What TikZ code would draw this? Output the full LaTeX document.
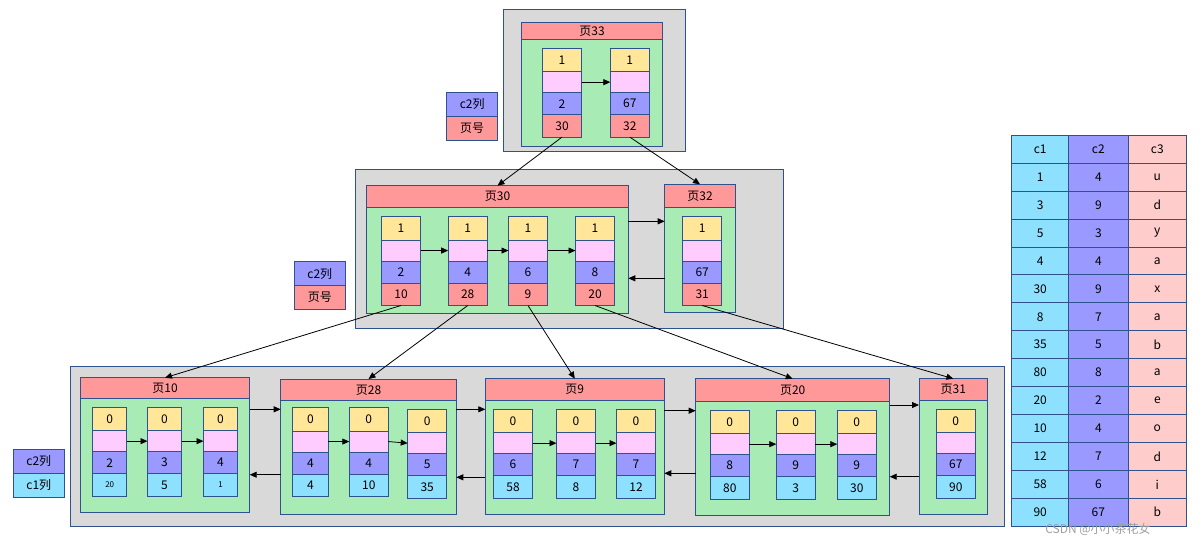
\documentclass[tikz,border=0pt]{standalone}
\usepackage{fontspec}
\setmainfont{Noto Sans CJK SC}
\usepackage{tikz}
\usetikzlibrary{arrows.meta,positioning}

% one record: [cell options]{name}{x}{top}{flag}{key}{last}{last style}
\newcommand{\Rec}[8][]{%
\node[ycell,#1,anchor=north] (#2y) at (#3,#4) {#5};
\node[pcell,#1,below=0pt of #2y] (#2p) {};
\node[bcell,#1,below=0pt of #2p] (#2b) {#6};
\node[#8,#1,below=0pt of #2b] (#2l) {#7};
}

\begin{document}
\begin{tikzpicture}[x=1pt,y=-1pt,
  every node/.style={font=\fontsize{12}{14}\selectfont},
  cell/.style={draw=cedge,line width=0.8pt,minimum width=39pt,inner sep=0pt,outer sep=0pt},
  ycell/.style={cell,fill=cyel,minimum height=23.5pt},
  pcell/.style={cell,fill=cpink,minimum height=20.7pt},
  bcell/.style={cell,fill=cblue,minimum height=22.3pt},
  rcell/.style={cell,fill=cred,minimum height=22.3pt},
  ccell/.style={cell,fill=ccyan,minimum height=22.3pt},
  head/.style={draw=cedge,line width=0.8pt,fill=chead,inner sep=0pt,outer sep=0pt,anchor=north west},
  body/.style={draw=cedge,line width=0.8pt,fill=cbody,inner sep=0pt,outer sep=0pt,anchor=north west},
  gbox/.style={draw=cedge,line width=0.8pt,fill=cgray},
  lcell/.style={draw=cedge,line width=0.8pt,minimum width=51pt,minimum height=23.8pt,inner sep=0pt,outer sep=0pt},
  tcell/.style={draw=cedge,line width=0.8pt,minimum height=27.93pt,inner sep=0pt,outer sep=0pt},
  arr/.style={-{Triangle[length=7pt,width=6pt]},line width=0.8pt,black}]
%
\useasboundingbox (0,0) rectangle (1201,547);
%
\definecolor{cedge}{RGB}{47,82,143}
\definecolor{cgray}{RGB}{217,217,217}
\definecolor{chead}{RGB}{255,153,153}
\definecolor{cbody}{RGB}{169,235,180}
\definecolor{cyel}{RGB}{255,230,153}
\definecolor{cpink}{RGB}{255,204,255}
\definecolor{cblue}{RGB}{153,153,255}
\definecolor{cred}{RGB}{255,153,153}
\definecolor{ccyan}{RGB}{142,224,255}
\definecolor{crose}{RGB}{255,204,204}
%
\draw[gbox] (503.3,9.3) rectangle (685,151);
\draw[gbox] (355.7,169.7) rectangle (783.3,328.3);
\draw[gbox] (70.3,366.7) rectangle (1004.3,526);
%
% root page
\node[head,minimum width=140.6pt,minimum height=17pt] (p33h) at (521.7,22.3) {页33};
\node[body,minimum width=140.6pt,minimum height=107pt] (p33) at (p33h.south west) {};
\Rec{r33a}{562}{48.3}{1}{2}{30}{rcell}
\Rec{r33b}{629.8}{48.3}{1}{67}{32}{rcell}
\draw[arr] (r33ap.east) -- (r33bp.west);
%
% second level
\node[head,minimum width=261.6pt,minimum height=21.6pt] (p30h) at (366.7,185.7) {页30};
\node[body,minimum width=261.6pt,minimum height=106pt] (p30) at (p30h.south west) {};
\node[head,minimum width=70.6pt,minimum height=23pt] (p32h) at (664.7,184.3) {页32};
\node[body,minimum width=70.6pt,minimum height=105pt] (p32) at (p32h.south west) {};
\Rec{r30a}{401}{216.7}{1}{2}{10}{rcell}
\Rec{r30b}{467.7}{216.7}{1}{4}{28}{rcell}
\Rec{r30c}{528}{216.7}{1}{6}{9}{rcell}
\Rec{r30d}{595}{216.7}{1}{8}{20}{rcell}
\Rec{r32a}{702.2}{216.7}{1}{67}{31}{rcell}
\draw[arr] (r30ap.east) -- (r30bp.west);
\draw[arr] (r30bp.east) -- (r30cp.west);
\draw[arr] (r30cp.east) -- (r30dp.west);
\draw[arr] ([yshift=-14pt]p30.north east) -- ([yshift=-14pt]p30.north east -| p32.west);
\draw[arr] ([yshift=34pt]p32.south west) -- ([yshift=34pt]p32.south west -| p30.east);
%
% leaf pages
\node[head,minimum width=169.4pt,minimum height=20.6pt] (p10h) at (80.3,377.7) {页10};
\node[body,minimum width=169.4pt,minimum height=114pt] (p10) at (p10h.south west) {};
\node[head,minimum width=175.6pt,minimum height=21.7pt] (p28h) at (280.7,379) {页28};
\node[body,minimum width=175.6pt,minimum height=113.6pt] (p28) at (p28h.south west) {};
\node[head,minimum width=179pt,minimum height=21.6pt] (p9h) at (485.3,378.7) {页9};
\node[body,minimum width=179pt,minimum height=114pt] (p9) at (p9h.south west) {};
\node[head,minimum width=194pt,minimum height=22.6pt] (p20h) at (695.7,378.7) {页20};
\node[body,minimum width=194pt,minimum height=114pt] (p20) at (p20h.south west) {};
\node[head,minimum width=68.7pt,minimum height=21.6pt] (p31h) at (919,378.7) {页31};
\node[body,minimum width=68.7pt,minimum height=114pt] (p31) at (p31h.south west) {};
%
\Rec[minimum width=34pt]{r10a}{109.7}{407.3}{0}{2}{\fontsize{8}{9}\selectfont 20}{ccell}
\Rec[minimum width=34pt]{r10b}{164.5}{407.3}{0}{3}{5}{ccell}
\Rec[minimum width=34pt]{r10c}{220.5}{407.3}{0}{4}{\fontsize{8}{9}\selectfont 1}{ccell}
\Rec[minimum width=35.6pt]{r28a}{310.5}{407.7}{0}{4}{4}{ccell}
\Rec{r28b}{368.8}{407.7}{0}{4}{10}{ccell}
\Rec{r28c}{427.2}{409.3}{0}{5}{35}{ccell}
\Rec{r9a}{513}{409.3}{0}{6}{58}{ccell}
\Rec{r9b}{576}{409.3}{0}{7}{8}{ccell}
\Rec{r9c}{636}{409.3}{0}{7}{12}{ccell}
\Rec{r20a}{729.8}{410.3}{0}{8}{80}{ccell}
\Rec{r20b}{795.8}{410.3}{0}{9}{3}{ccell}
\Rec{r20c}{856.8}{410.3}{0}{9}{30}{ccell}
\Rec{r31a}{955.8}{409.3}{0}{67}{90}{ccell}
%
\foreach \s/\t in {r10a/r10b,r10b/r10c,r28a/r28b,r28b/r28c,r9a/r9b,r9b/r9c,r20a/r20b,r20b/r20c}
  \draw[arr] (\s p.east) -- (\t p.west);
%
\draw[arr] ([yshift=-11pt]p10.north east) -- ([yshift=-11pt]p10.north east -| p28.west);
\draw[arr] ([yshift=-8.6pt]p28.north east) -- ([yshift=-8.6pt]p28.north east -| p9.west);
\draw[arr] ([yshift=-10.4pt]p9.north east) -- ([yshift=-10.4pt]p9.north east -| p20.west);
\draw[arr] ([yshift=-3.7pt]p20.north east) -- ([yshift=-3.7pt]p20.north east -| p31.west);
\draw[arr] ([yshift=39.6pt]p28.south west) -- ([yshift=39.6pt]p28.south west -| p10.east);
\draw[arr] ([yshift=37pt]p9.south west) -- ([yshift=37pt]p9.south west -| p28.east);
\draw[arr] ([yshift=42pt]p20.south west) -- ([yshift=42pt]p20.south west -| p9.east);
\draw[arr] ([yshift=37.6pt]p31.south west) -- ([yshift=37.6pt]p31.south west -| p20.east);
%
% child pointers
\draw[arr] (r33al.south) -- (p30h.north);
\draw[arr] (r33bl.south) -- (p32h.north);
\draw[arr] (r30al.south) -- (p10h.north);
\draw[arr] (r30bl.south) -- (p28h.north);
\draw[arr] (r30cl.south) -- (p9h.north);
\draw[arr] (r30dl.south) -- (p20h.north);
\draw[arr] (r32al.south) -- (p31h.north);
%
% legends
\node[lcell,fill=cblue,anchor=north west] (lg1a) at (446.7,92.3) {c2列};
\node[lcell,fill=cred,below=0pt of lg1a] (lg1b) {页号};
\node[lcell,fill=cblue,anchor=north west] (lg2a) at (294.3,261.7) {c2列};
\node[lcell,fill=cred,below=0pt of lg2a] (lg2b) {页号};
\node[lcell,fill=cblue,anchor=north west] (lg3a) at (13.3,449.3) {c2列};
\node[lcell,fill=ccyan,below=0pt of lg3a] (lg3b) {c1列};
%
% table
\foreach \a/\b/\c [count=\i from 0] in {c1/c2/c3,1/4/u,3/9/d,5/3/y,4/4/a,30/9/x,8/7/a,35/5/b,80/8/a,20/2/e,10/4/o,12/7/d,58/6/i,90/67/b}{
  \node[tcell,fill=ccyan,minimum width=57pt] (ta\i) at (1040.2,{149.2+27.93*\i}) {\a};
  \node[tcell,fill=cblue,minimum width=59.3pt] (tb\i) at (1098.35,{149.2+27.93*\i}) {\b};
  \node[tcell,fill=crose,minimum width=58.7pt] (tc\i) at (1157.35,{149.2+27.93*\i}) {\c};
}
%
\node[font=\fontsize{12}{14}\selectfont,text=gray!75] (wm) at (1098,529) {CSDN @小小茶花女};
%
\end{tikzpicture}
\end{document}
